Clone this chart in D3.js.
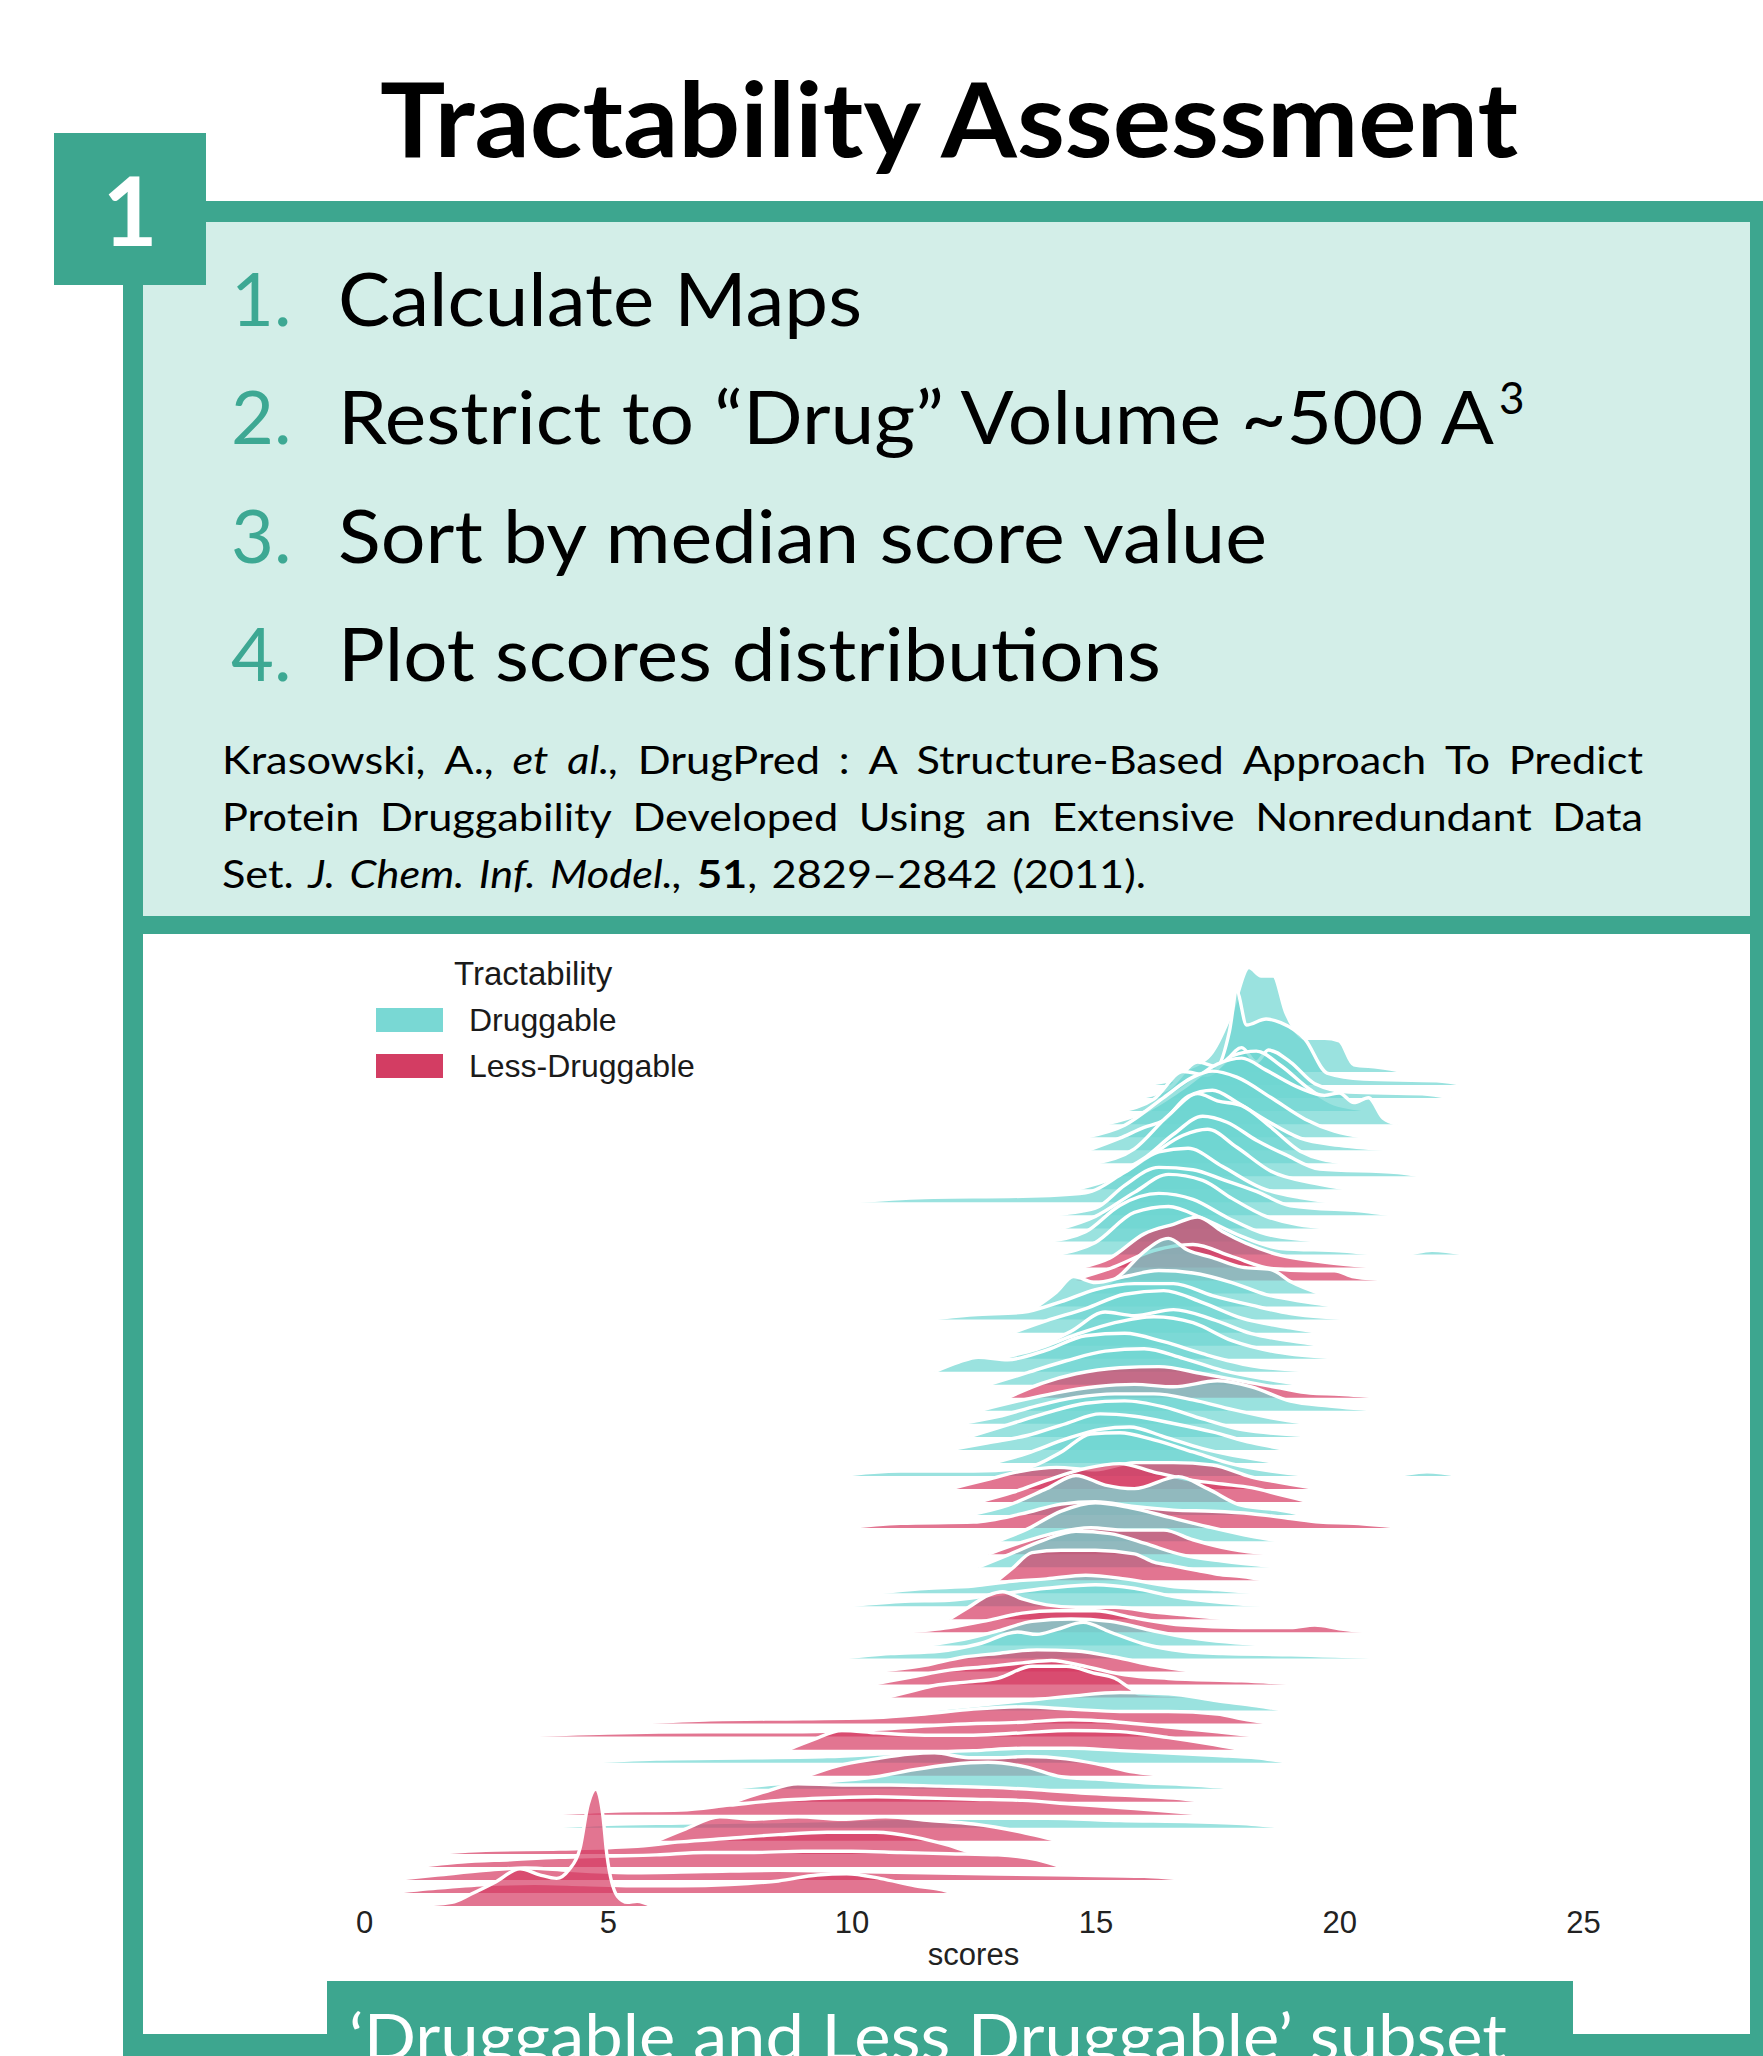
<!DOCTYPE html>
<html>
<head>
<meta charset="utf-8">
<script src="https://cdn.jsdelivr.net/npm/d3@7"></script>
<style>
  body { margin: 0; background: #fff; }
  svg { display: block; }
</style>
</head>
<body>
<svg id="slide" width="1763" height="2056"></svg>
<script>
// legend categories and axis ticks
const groups = ["Druggable", "Less-Druggable"];
const xTicks = [0, 5, 10, 15, 20, 25];

// one entry per ridge, top to bottom (0 = Druggable, 1 = Less-Druggable)
const ridgeGroup = [
  0,0,0,0,0,0,0,0,0,0, 0,0,0,0,0,1,1,0,0,0,
  0,0,0,0,0,1,0,0,0,0, 0,0,1,1,0,1,0,1,0,1,
  0,0,1,1,0,0,1,1,1,0, 1,1,1,0,1,0,1,1,0,1,
  1,1,1,1,1
];

// density: [score, relative height]
const ridgeDensity = [
  [[16.6,0],[17.3,0.12],[17.8,0.5],[18.15,0.87],[18.4,0.8],[18.65,0.8],[18.9,0.5],[19.3,0.28],[19.7,0.28],[20.0,0.26],[20.3,0.06],[20.8,0.04],[21.4,0]],
  [[16.0,0],[16.8,0.06],[17.5,0.15],[17.75,0.45],[17.9,0.78],[18.1,0.5],[18.5,0.55],[18.8,0.52],[19.3,0.38],[19.75,0.1],[20.5,0.05],[22.0,0.035],[22.6,0]],
  [[15.8,0],[16.5,0.08],[17.1,0.3],[17.5,0.26],[18.0,0.42],[18.3,0.3],[18.55,0.4],[19.0,0.3],[19.5,0.12],[20.2,0.05],[21.7,0.035],[22.3,0]],
  [[15.5,0],[16.2,0.1],[16.8,0.33],[17.3,0.3],[17.8,0.46],[18.3,0.5],[18.8,0.38],[19.4,0.18],[19.9,0.06],[20.8,0]],
  [[15.2,0],[16.0,0.1],[16.8,0.3],[17.5,0.5],[18.0,0.55],[18.5,0.45],[19.2,0.3],[19.7,0.24],[20.0,0.26],[20.3,0.18],[20.6,0.22],[20.9,0.05],[21.2,0]],
  [[14.8,0],[15.6,0.1],[16.4,0.33],[17.0,0.5],[17.4,0.55],[17.9,0.5],[18.6,0.33],[19.3,0.15],[19.9,0.05],[20.5,0]],
  [[14.85,0],[15.5,0.1],[16.0,0.19],[16.4,0.25],[16.9,0.45],[17.4,0.5],[17.9,0.4],[18.5,0.25],[19.2,0.1],[20.0,0.04],[21.2,0]],
  [[15.0,0],[15.8,0.12],[16.5,0.4],[17.1,0.58],[17.5,0.52],[18.0,0.48],[18.6,0.3],[19.2,0.1],[20.1,0]],
  [[15.3,0],[16.0,0.15],[16.6,0.35],[17.2,0.5],[17.7,0.45],[18.3,0.3],[18.9,0.18],[19.6,0.06],[21.2,0.03],[21.7,0]],
  [[14.6,0],[15.4,0.1],[16.2,0.3],[16.8,0.45],[17.3,0.5],[17.9,0.35],[18.6,0.15],[19.5,0.05],[20.2,0]],
  [[9.9,0],[11.5,0.04],[13.5,0.05],[14.8,0.08],[15.6,0.25],[16.3,0.42],[16.9,0.45],[17.6,0.3],[18.4,0.12],[19.2,0.04],[19.9,0]],
  [[14.0,0],[15.0,0.06],[15.6,0.25],[16.3,0.4],[17.0,0.38],[17.6,0.3],[18.3,0.2],[19.0,0.08],[20.6,0.03],[21.2,0]],
  [[14.3,0],[15.0,0.1],[15.8,0.3],[16.5,0.45],[17.2,0.4],[17.8,0.25],[18.5,0.1],[19.8,0]],
  [[14.0,0],[14.8,0.08],[15.5,0.3],[16.3,0.4],[17.0,0.35],[17.7,0.2],[18.5,0.06],[19.7,0]],
  [[14.2,0],[15.0,0.1],[15.8,0.35],[16.5,0.4],[17.2,0.3],[18.0,0.15],[18.8,0.05],[20.0,0.03],[21.0,0],[21.3,0],[21.9,0.035],[22.6,0]],
  [[14.7,0],[15.3,0.08],[16.0,0.28],[16.6,0.36],[17.1,0.42],[17.6,0.3],[18.1,0.2],[18.8,0.1],[19.6,0.05],[20.9,0]],
  [[14.5,0],[15.3,0.1],[16.2,0.25],[17.0,0.3],[17.8,0.2],[18.6,0.1],[19.4,0.08],[19.9,0.08],[20.3,0.03],[21.2,0]],
  [[14.8,0],[15.5,0.15],[16.0,0.35],[16.5,0.46],[16.9,0.36],[17.4,0.3],[18.0,0.22],[18.6,0.2],[19.0,0.1],[19.6,0]],
  [[13.8,0],[14.2,0.12],[14.55,0.25],[15.0,0.2],[15.6,0.25],[16.3,0.3],[17.0,0.28],[17.8,0.2],[18.5,0.1],[19.3,0.04],[20.0,0]],
  [[11.5,0],[12.5,0.04],[13.5,0.06],[14.3,0.15],[15.0,0.25],[15.8,0.3],[16.6,0.3],[17.4,0.2],[18.2,0.12],[19.0,0.05],[20.6,0]],
  [[13.3,0],[14.0,0.1],[14.8,0.2],[15.6,0.32],[16.4,0.35],[17.2,0.25],[18.0,0.12],[19.0,0.04],[19.6,0]],
  [[13.9,0],[14.5,0.12],[15.2,0.28],[15.8,0.25],[16.6,0.3],[17.4,0.22],[18.2,0.1],[19.0,0.04],[19.7,0]],
  [[13.0,0],[13.8,0.08],[14.6,0.2],[15.4,0.3],[16.2,0.35],[17.0,0.3],[17.8,0.15],[18.8,0.05],[20.3,0]],
  [[11.7,0],[12.2,0.08],[12.6,0.12],[13.2,0.1],[14.0,0.18],[14.8,0.3],[15.6,0.32],[16.4,0.25],[17.2,0.15],[18.2,0.05],[19.7,0]],
  [[12.8,0],[13.6,0.1],[14.4,0.2],[15.2,0.28],[16.0,0.3],[16.8,0.22],[17.6,0.12],[18.6,0.04],[19.2,0]],
  [[13.2,0],[13.9,0.12],[14.6,0.2],[15.5,0.25],[16.3,0.26],[17.2,0.2],[18.0,0.14],[18.8,0.08],[19.4,0.04],[20.0,0.03],[21.0,0]],
  [[12.6,0],[13.4,0.08],[14.2,0.15],[15.0,0.2],[15.8,0.22],[16.6,0.2],[17.5,0.25],[18.2,0.2],[19.0,0.08],[19.8,0.04],[21.0,0]],
  [[12.2,0],[13.0,0.06],[13.8,0.15],[14.6,0.22],[15.4,0.25],[16.2,0.25],[17.0,0.2],[17.8,0.12],[18.6,0.05],[19.4,0]],
  [[12.4,0],[13.2,0.1],[14.0,0.2],[14.8,0.28],[15.6,0.3],[16.4,0.25],[17.2,0.15],[18.0,0.06],[19.8,0]],
  [[12.0,0],[12.8,0.06],[13.6,0.12],[14.4,0.22],[15.1,0.3],[15.8,0.28],[16.6,0.22],[17.4,0.15],[18.2,0.06],[19.0,0]],
  [[12.9,0],[13.6,0.08],[14.4,0.2],[15.1,0.28],[15.7,0.3],[16.4,0.22],[17.2,0.12],[18.0,0.05],[18.8,0]],
  [[9.7,0],[11.0,0.04],[12.5,0.04],[13.6,0.07],[14.3,0.2],[14.9,0.35],[15.5,0.36],[16.2,0.3],[17.0,0.2],[17.8,0.1],[18.6,0.04],[19.7,0],[21.0,0],[21.8,0.035],[22.5,0]],
  [[12.0,0],[12.8,0.08],[13.5,0.15],[14.2,0.18],[15.0,0.16],[15.8,0.22],[16.6,0.22],[17.4,0.2],[18.2,0.1],[19.0,0.04],[19.6,0]],
  [[12.6,0],[13.3,0.08],[14.0,0.18],[14.8,0.28],[15.5,0.32],[16.2,0.25],[17.0,0.18],[17.6,0.15],[18.2,0.12],[18.8,0.06],[19.4,0]],
  [[12.4,0],[13.2,0.08],[14.0,0.22],[14.6,0.33],[15.2,0.25],[15.8,0.22],[16.7,0.32],[17.3,0.22],[18.0,0.08],[18.8,0.04],[19.3,0]],
  [[9.8,0],[11.0,0.04],[12.5,0.05],[13.5,0.12],[14.3,0.2],[15.0,0.22],[15.8,0.18],[16.6,0.15],[17.4,0.14],[18.2,0.12],[19.0,0.08],[19.6,0.05],[20.3,0.04],[21.4,0]],
  [[13.0,0],[13.6,0.1],[14.3,0.25],[15.0,0.32],[15.7,0.28],[16.5,0.2],[17.3,0.12],[18.2,0.04],[18.8,0]],
  [[12.8,0],[13.5,0.1],[14.2,0.18],[14.9,0.22],[15.6,0.2],[16.4,0.2],[17.0,0.12],[17.8,0.04],[18.6,0]],
  [[12.6,0],[13.2,0.1],[13.9,0.22],[14.6,0.3],[15.3,0.28],[16.0,0.2],[16.8,0.1],[17.6,0.05],[18.8,0]],
  [[13.0,0],[13.3,0.1],[13.7,0.23],[14.3,0.25],[15.0,0.25],[15.8,0.22],[16.2,0.15],[16.6,0.12],[17.1,0.08],[17.5,0.05],[18.0,0.03],[18.5,0]],
  [[10.4,0],[11.5,0.04],[12.5,0.06],[13.3,0.1],[14.0,0.12],[14.8,0.15],[15.6,0.12],[16.5,0.06],[17.5,0.03],[18.4,0]],
  [[9.8,0],[11.0,0.04],[12.0,0.05],[13.0,0.1],[14.0,0.15],[15.0,0.18],[15.8,0.15],[16.6,0.08],[17.6,0.03],[18.8,0]],
  [[12.0,0],[12.4,0.1],[12.8,0.2],[13.1,0.23],[13.5,0.17],[14.0,0.12],[14.6,0.1],[15.4,0.1],[16.2,0.06],[17.0,0.03],[17.8,0]],
  [[11.0,0],[12.0,0.04],[12.8,0.1],[13.5,0.16],[14.2,0.18],[15.0,0.18],[15.8,0.12],[16.8,0.06],[18.0,0.04],[19.0,0.04],[19.5,0.06],[20.0,0.03],[20.7,0]],
  [[11.5,0],[12.3,0.05],[13.0,0.12],[13.7,0.2],[14.5,0.22],[15.3,0.2],[16.2,0.12],[17.0,0.06],[18.6,0]],
  [[9.7,0],[10.8,0.04],[11.8,0.06],[12.6,0.12],[13.4,0.22],[13.8,0.2],[14.2,0.24],[14.75,0.3],[15.3,0.22],[16.0,0.12],[16.8,0.06],[17.6,0.04],[19.0,0.03],[21.2,0]],
  [[10.5,0],[11.5,0.05],[12.3,0.12],[13.0,0.15],[13.8,0.18],[14.6,0.17],[15.4,0.12],[16.2,0.05],[17.0,0]],
  [[10.4,0],[11.2,0.06],[12.0,0.12],[12.8,0.15],[13.5,0.18],[14.1,0.2],[14.8,0.15],[15.6,0.08],[16.5,0.05],[18.0,0.03],[19.3,0]],
  [[10.7,0],[11.3,0.06],[11.7,0.1],[12.4,0.13],[13.0,0.16],[13.7,0.26],[14.4,0.26],[15.0,0.2],[15.4,0.16],[15.7,0.08],[15.9,0.03],[16.5,0.02],[17.3,0]],
  [[11.5,0],[12.5,0.04],[13.5,0.08],[14.5,0.12],[15.5,0.15],[16.5,0.14],[17.5,0.08],[18.3,0.04],[18.9,0]],
  [[5.4,0],[7.0,0.03],[9.0,0.04],[10.5,0.05],[11.5,0.08],[12.5,0.12],[13.5,0.14],[14.5,0.12],[15.5,0.1],[16.5,0.1],[17.5,0.08],[18.0,0.04],[18.6,0]],
  [[2.8,0],[5.0,0.03],[7.0,0.04],[9.0,0.04],[10.5,0.06],[12.0,0.1],[13.5,0.12],[14.5,0.14],[15.5,0.12],[16.5,0.08],[17.5,0.04],[18.4,0]],
  [[8.7,0],[9.2,0.08],[9.8,0.16],[10.5,0.14],[11.5,0.12],[12.5,0.12],[13.5,0.14],[14.5,0.16],[15.5,0.15],[16.5,0.1],[17.3,0.05],[18.0,0]],
  [[4.4,0],[6.0,0.03],[8.0,0.04],[9.5,0.05],[11.0,0.08],[12.5,0.1],[13.5,0.12],[14.5,0.12],[15.5,0.1],[16.5,0.08],[17.5,0.06],[18.3,0.04],[19.0,0]],
  [[9.1,0],[9.7,0.08],[10.5,0.14],[11.2,0.18],[11.7,0.19],[12.4,0.15],[13.0,0.15],[13.6,0.16],[14.4,0.14],[15.0,0.1],[15.8,0.03],[16.5,0]],
  [[7.5,0],[8.5,0.04],[9.5,0.06],[10.5,0.1],[11.3,0.16],[12.0,0.2],[12.8,0.22],[13.6,0.18],[14.3,0.1],[15.0,0.08],[16.0,0.05],[17.0,0.03],[18.0,0]],
  [[7.6,0],[8.2,0.08],[8.9,0.15],[9.8,0.14],[10.8,0.14],[11.8,0.13],[12.8,0.12],[13.8,0.1],[14.8,0.07],[15.8,0.05],[16.6,0.03],[17.3,0]],
  [[3.5,0],[5.0,0.03],[6.5,0.04],[7.5,0.08],[8.5,0.12],[9.5,0.14],[10.5,0.15],[11.5,0.14],[12.5,0.13],[13.5,0.12],[14.5,0.09],[15.5,0.06],[16.5,0.03],[17.4,0]],
  [[3.5,0],[5.0,0.03],[6.5,0.04],[8.0,0.05],[9.5,0.06],[11.0,0.08],[12.5,0.08],[14.0,0.08],[15.5,0.06],[17.0,0.05],[18.2,0.03],[19.0,0]],
  [[6.0,0],[6.6,0.1],[7.3,0.2],[8.0,0.18],[8.9,0.2],[9.8,0.18],[10.7,0.2],[11.6,0.17],[12.5,0.14],[13.4,0.08],[14.25,0]],
  [[1.3,0],[2.5,0.03],[4.0,0.04],[5.5,0.06],[6.5,0.1],[7.5,0.13],[8.5,0.16],[9.5,0.18],[10.5,0.18],[11.3,0.14],[12.0,0.07],[12.4,0.02],[13.0,0]],
  [[1.0,0],[2.0,0.04],[3.0,0.06],[4.0,0.08],[5.0,0.09],[6.0,0.1],[7.0,0.12],[8.0,0.12],[9.0,0.13],[10.0,0.13],[11.0,0.12],[12.0,0.11],[13.0,0.1],[13.8,0.06],[14.3,0]],
  [[0.5,0],[1.5,0.04],[2.5,0.08],[3.3,0.1],[4.2,0.08],[5.5,0.06],[7.0,0.07],[8.5,0.08],[10.0,0.07],[11.5,0.06],[13.0,0.05],[14.5,0.04],[16.0,0.03],[17.0,0]],
  [[0.5,0],[1.5,0.04],[2.5,0.07],[3.5,0.08],[4.5,0.07],[5.5,0.06],[6.5,0.06],[7.5,0.07],[8.5,0.1],[9.3,0.15],[9.9,0.16],[10.6,0.12],[11.3,0.06],[11.8,0.03],[12.1,0]],
  [[0.9,0],[1.8,0.03],[2.2,0.1],[2.7,0.2],[3.2,0.31],[3.6,0.26],[3.95,0.23],[4.2,0.3],[4.43,0.48],[4.6,0.85],[4.76,0.975],[4.9,0.75],[4.98,0.43],[5.2,0.08],[5.4,0.03],[5.6,0.04],[5.9,0]]
];

const green = "#3da68f";
const fillColor = ["#6fd5d1", "#d63a62"];
const keyColor = ["#79d8d4", "#d33d63"];
const slideFont = "Lato, 'Open Sans', sans-serif";
const plotFont = "'Liberation Sans', Arial, sans-serif";

const svg = d3.select("#slide");

// ---- slide frame ----
svg.append("rect").attr("x", 143).attr("y", 222).attr("width", 1607).attr("height", 694).attr("fill", "#d3eee8");
svg.append("rect").attr("x", 123).attr("y", 201).attr("width", 1640).attr("height", 21).attr("fill", green);
svg.append("rect").attr("x", 123).attr("y", 201).attr("width", 20).attr("height", 1855).attr("fill", green);
svg.append("rect").attr("x", 1750).attr("y", 201).attr("width", 13).attr("height", 1855).attr("fill", green);
svg.append("rect").attr("x", 143).attr("y", 916).attr("width", 1607).attr("height", 18).attr("fill", green);
svg.append("rect").attr("x", 123).attr("y", 2034).attr("width", 1640).attr("height", 22).attr("fill", green);

svg.append("rect").attr("x", 54).attr("y", 133).attr("width", 152).attr("height", 152).attr("fill", green);
svg.append("text").attr("x", 130).attr("y", 246).attr("text-anchor", "middle")
  .attr("font-family", slideFont).attr("font-weight", 700).attr("font-size", 95)
  .attr("fill", "#fff").text("1");

svg.append("text").attr("x", 380).attr("y", 157)
  .attr("font-family", slideFont).attr("font-weight", 700).attr("font-size", 103)
  .attr("textLength", 1138).attr("lengthAdjust", "spacingAndGlyphs")
  .attr("fill", "#000").text("Tractability Assessment");

// ---- numbered steps ----
const steps = [
  { n: "1.", t: "Calculate Maps", y: 326, w: 524 },
  { n: "2.", t: "Restrict to \u201cDrug\u201d Volume ~500 A", y: 444, w: 1156 },
  { n: "3.", t: "Sort by median score value", y: 563, w: 929 },
  { n: "4.", t: "Plot scores distributions", y: 681, w: 823 }
];
steps.forEach(s => {
  svg.append("text").attr("x", 231).attr("y", s.y)
    .attr("font-family", slideFont).attr("font-size", 74).attr("fill", "#3da893").text(s.n);
  svg.append("text").attr("x", 338).attr("y", s.y)
    .attr("font-family", slideFont).attr("font-size", 74).attr("fill", "#000")
    .attr("textLength", s.w).attr("lengthAdjust", "spacingAndGlyphs").text(s.t);
});
svg.append("text").attr("x", 1499).attr("y", 414)
  .attr("font-family", slideFont).attr("font-size", 44).attr("fill", "#000").text("3");

// ---- citation, justified ----
const citeSize = 38;
const citeStretch = 1.14;
function wordText(y, parts) {
  const t = svg.append("text").attr("x", 0).attr("y", 0).attr("font-family", slideFont)
    .attr("font-size", citeSize).attr("fill", "#000");
  parts.forEach(p => {
    t.append("tspan").text(p[0])
      .attr("font-style", p[1] === "i" ? "italic" : null)
      .attr("font-weight", p[1] === "b" ? 700 : null);
  });
  return t;
}
function placeLine(y, words, x0, x1) {
  const nodes = words.map(w => wordText(y, w));
  const widths = nodes.map(n => n.node().getComputedTextLength() * citeStretch);
  const total = d3.sum(widths);
  const gap = x1 === null ? citeSize * 0.38 : (x1 - x0 - total) / (words.length - 1);
  let x = x0;
  nodes.forEach((n, i) => {
    n.attr("transform", `translate(${x},${y}) scale(${citeStretch},1)`);
    x += widths[i] + gap;
  });
}
const citeLines = [
  ["Krasowski,", "A.,", ["et", "i"], ["al.,", "i"], "DrugPred", ":", "A", "Structure-Based", "Approach", "To", "Predict"],
  ["Protein", "Druggability", "Developed", "Using", "an", "Extensive", "Nonredundant", "Data"],
  ["Set.", ["J.", "i"], ["Chem.", "i"], ["Inf.", "i"], ["Model.,", "i"], [["51", "b"], [",", ""]], "2829\u20132842", "(2011)."]
];
function norm(w) {
  if (typeof w === "string") return [[w, ""]];
  if (Array.isArray(w[0])) return w;
  return [w];
}
placeLine(774, citeLines[0].map(norm), 222, 1643);
placeLine(831, citeLines[1].map(norm), 222, 1643);
placeLine(888, citeLines[2].map(norm), 222, null);

// ---- ridgeline plot ----
const x = d3.scaleLinear().domain([0, 25]).range([364, 1583]);
const yBase = d3.scaleLinear().domain([0, ridgeGroup.length - 1]).range([1072, 1906]);
const h = d3.scaleLinear().domain([0, 1]).range([0, 120]);

const area = d3.area().x(d => x(d[0])).y0(0).y1(d => -h(d[1])).curve(d3.curveMonotoneX);
const line = d3.line().x(d => x(d[0])).y(d => -h(d[1])).curve(d3.curveMonotoneX);

const ridges = svg.append("g").selectAll("g")
  .data(ridgeDensity)
  .join("g")
  .attr("transform", (d, i) => `translate(0,${yBase(i)})`);

ridges.append("path")
  .attr("d", area)
  .attr("fill", (d, i) => fillColor[ridgeGroup[i]])
  .attr("fill-opacity", 0.7);

ridges.append("path")
  .attr("d", line)
  .attr("fill", "none")
  .attr("stroke", "#fff")
  .attr("stroke-width", 3.4)
  .attr("stroke-linejoin", "round");

// x axis
const axis = svg.append("g")
  .attr("transform", "translate(0,1906)")
  .call(d3.axisBottom(x).tickValues(xTicks).tickSize(0).tickFormat(d3.format("d")));
axis.select(".domain").remove();
axis.selectAll("text")
  .attr("y", 27).attr("dy", 0)
  .attr("font-family", plotFont).attr("font-size", 31).attr("fill", "#222");

svg.append("text").attr("x", x(12.5)).attr("y", 1965).attr("text-anchor", "middle")
  .attr("font-family", plotFont).attr("font-size", 31).attr("fill", "#222").text("scores");

// legend
svg.append("text").attr("x", 454).attr("y", 985)
  .attr("font-family", plotFont).attr("font-size", 33).attr("fill", "#1a1a1a").text("Tractability");
const legend = svg.append("g").selectAll("g")
  .data(groups)
  .join("g")
  .attr("transform", (d, i) => `translate(376,${1008 + i * 46})`);
legend.append("rect").attr("width", 67).attr("height", 24).attr("fill", (d, i) => keyColor[i]);
legend.append("text").attr("x", 93).attr("y", 23)
  .attr("font-family", plotFont).attr("font-size", 32).attr("fill", "#1a1a1a").text(d => d);

// ---- caption bar ----
svg.append("rect").attr("x", 327).attr("y", 1981).attr("width", 1246).attr("height", 75).attr("fill", green);
svg.append("text").attr("x", 349).attr("y", 2060)
  .attr("font-family", slideFont).attr("font-size", 64).attr("fill", "#fff")
  .attr("textLength", 1158).attr("lengthAdjust", "spacingAndGlyphs")
  .text("\u2018Druggable and Less Druggable\u2019 subset");
</script>
</body>
</html>
